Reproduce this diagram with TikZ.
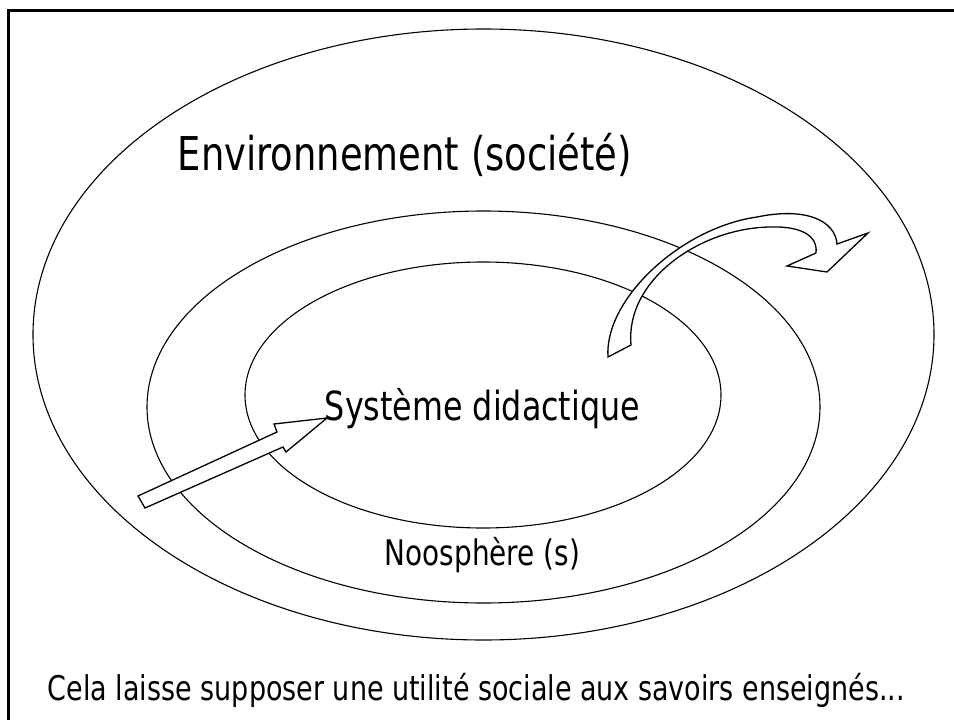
\documentclass[tikz,border=0pt]{standalone}
\usepackage{fontspec}
\setmainfont{DejaVu Sans Condensed}[FakeStretch=0.88]
\usetikzlibrary{shapes.geometric}
\begin{document}
\begin{tikzpicture}[x=1pt,y=-1pt,
  ring/.style={ellipse, draw, line width=1.1pt, inner sep=0pt, outer sep=0pt},
  blockarrow/.style={draw, fill=white, line width=1.3pt, line join=miter},
  lbl/.style={anchor=base, inner sep=0pt}]
\useasboundingbox (0,0) rectangle (954,720);
\draw[line width=3pt] (8.3,720) -- (8.3,10.8) -- (955,10.8);
% rings
\node[ring, minimum width=901pt, minimum height=611pt] (env) at (483.5,334.5) {};
\node[ring, minimum width=673pt, minimum height=392pt] (noo) at (483.5,407) {};
\node[ring, minimum width=476pt, minimum height=266pt] (sys) at (483,395) {};
% straight block arrow
\draw[blockarrow] (138,496) -- (277,432) -- (274,424) -- (327,418) -- (286,452) -- (283,447) -- (145,508) -- cycle;
% curved block arrow
\draw[blockarrow] (608,357) .. controls (604,300) and (680,228) .. (757,217)
  .. controls (805,207) and (835,220) .. (837,244)
  -- (868,233) -- (827,272) -- (787,266) -- (816,253)
  .. controls (818,235) and (800,226) .. (770,227)
  .. controls (700,228) and (625,280) .. (631,345) -- cycle;
% labels
\node[lbl] (lenv) at (405,170) {\resizebox{454pt}{!}{Environnement (société)}};
\node[lbl] (lsys) at (482.5,420) {\resizebox{315pt}{!}{Système didactique}};
\node[lbl] (lnoo) at (482.5,565) {\resizebox{195pt}{!}{Noosphère (s)}};
\node[lbl] (lnote) at (476.5,700) {\resizebox{857pt}{!}{Cela laisse supposer une utilité sociale aux savoirs enseignés...}};
\end{tikzpicture}
\end{document}
